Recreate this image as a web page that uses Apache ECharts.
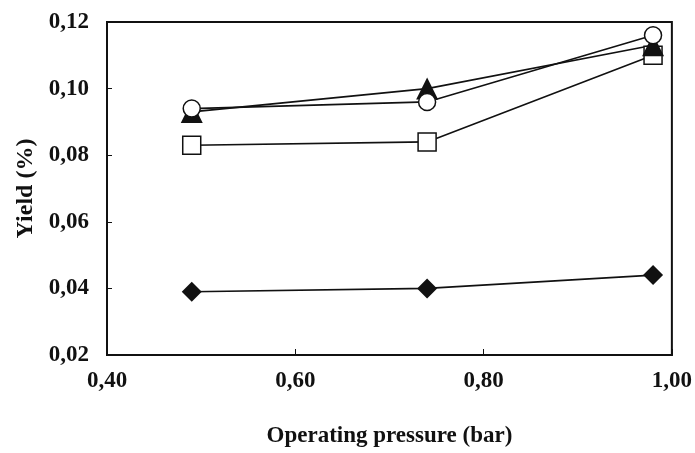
<!DOCTYPE html>
<html>
<head>
<meta charset="utf-8">
<script src="https://cdn.jsdelivr.net/npm/echarts@6/dist/echarts.min.js"></script>
<style>
  html, body { margin: 0; padding: 0; background: #fff; }
  #chart { width: 695px; height: 453px; }
</style>
</head>
<body>
<div id="chart"></div>
<script>
// Operating pressure (bar)
const pressure = [0.49, 0.74, 0.98];

// Yield (%) for each series
const yieldDiamond  = [0.039, 0.040, 0.044];
const yieldSquare   = [0.083, 0.084, 0.110];
const yieldTriangle = [0.093, 0.100, 0.113];
const yieldCircle   = [0.094, 0.096, 0.116];

// Axis ranges
const xTicks = { min: 0.40, max: 1.00, step: 0.20 };
const yTicks = { min: 0.02, max: 0.12, step: 0.02 };

const FONT = '"Liberation Serif", "DejaVu Serif", serif';
const comma = (v) => v.toFixed(2).replace('.', ',');
const pairs = (ys) => pressure.map((x, i) => [x, ys[i]]);

function lineSeries(name, ys, symbol, size, filled) {
  return {
    name: name,
    type: 'line',
    data: pairs(ys),
    symbol: symbol,
    symbolSize: size,
    showAllSymbol: true,
    lineStyle: { color: '#111', width: 1.6 },
    itemStyle: {
      color: filled ? '#111' : '#fff',
      borderColor: '#111',
      borderWidth: filled ? 0 : 1.5
    },
    emphasis: { disabled: true },
    animation: false
  };
}

const chart = echarts.init(document.getElementById('chart'), null, { renderer: 'canvas' });
chart.setOption({
  backgroundColor: '#fff',
  animation: false,
  grid: {
    left: 107, right: 23, top: 22, bottom: 94,
    show: true, borderColor: '#111', borderWidth: 2, backgroundColor: 'transparent'
  },
  xAxis: {
    type: 'value',
    min: xTicks.min, max: xTicks.max, interval: xTicks.step,
    name: 'Operating pressure (bar)',
    nameLocation: 'middle',
    nameGap: 70,
    nameTextStyle: { fontFamily: FONT, fontWeight: 'bold', fontSize: 23, color: '#111' },
    axisLine: { show: true, lineStyle: { color: '#111', width: 2 } },
    axisTick: { show: true, inside: true, length: 6, lineStyle: { color: '#111', width: 1 } },
    splitLine: { show: false },
    axisLabel: {
      formatter: comma, margin: 15,
      fontFamily: FONT, fontWeight: 'bold', fontSize: 23, color: '#111'
    }
  },
  yAxis: {
    type: 'value',
    min: yTicks.min, max: yTicks.max, interval: yTicks.step,
    name: 'Yield (%)',
    nameLocation: 'middle',
    nameGap: 68,
    nameRotate: 90,
    nameTextStyle: { fontFamily: FONT, fontWeight: 'bold', fontSize: 24, color: '#111' },
    axisLine: { show: true, lineStyle: { color: '#111', width: 2 } },
    axisTick: { show: true, inside: true, length: 5, lineStyle: { color: '#111', width: 1 } },
    splitLine: { show: false },
    axisLabel: {
      formatter: comma, margin: 18,
      fontFamily: FONT, fontWeight: 'bold', fontSize: 23, color: '#111'
    }
  },
  series: [
    lineSeries('diamond', yieldDiamond, 'diamond', 20, true),
    lineSeries('square', yieldSquare, 'rect', 18, false),
    lineSeries('triangle', yieldTriangle, 'triangle', 22, true),
    lineSeries('circle', yieldCircle, 'circle', 17, false)
  ]
});
</script>
</body>
</html>
